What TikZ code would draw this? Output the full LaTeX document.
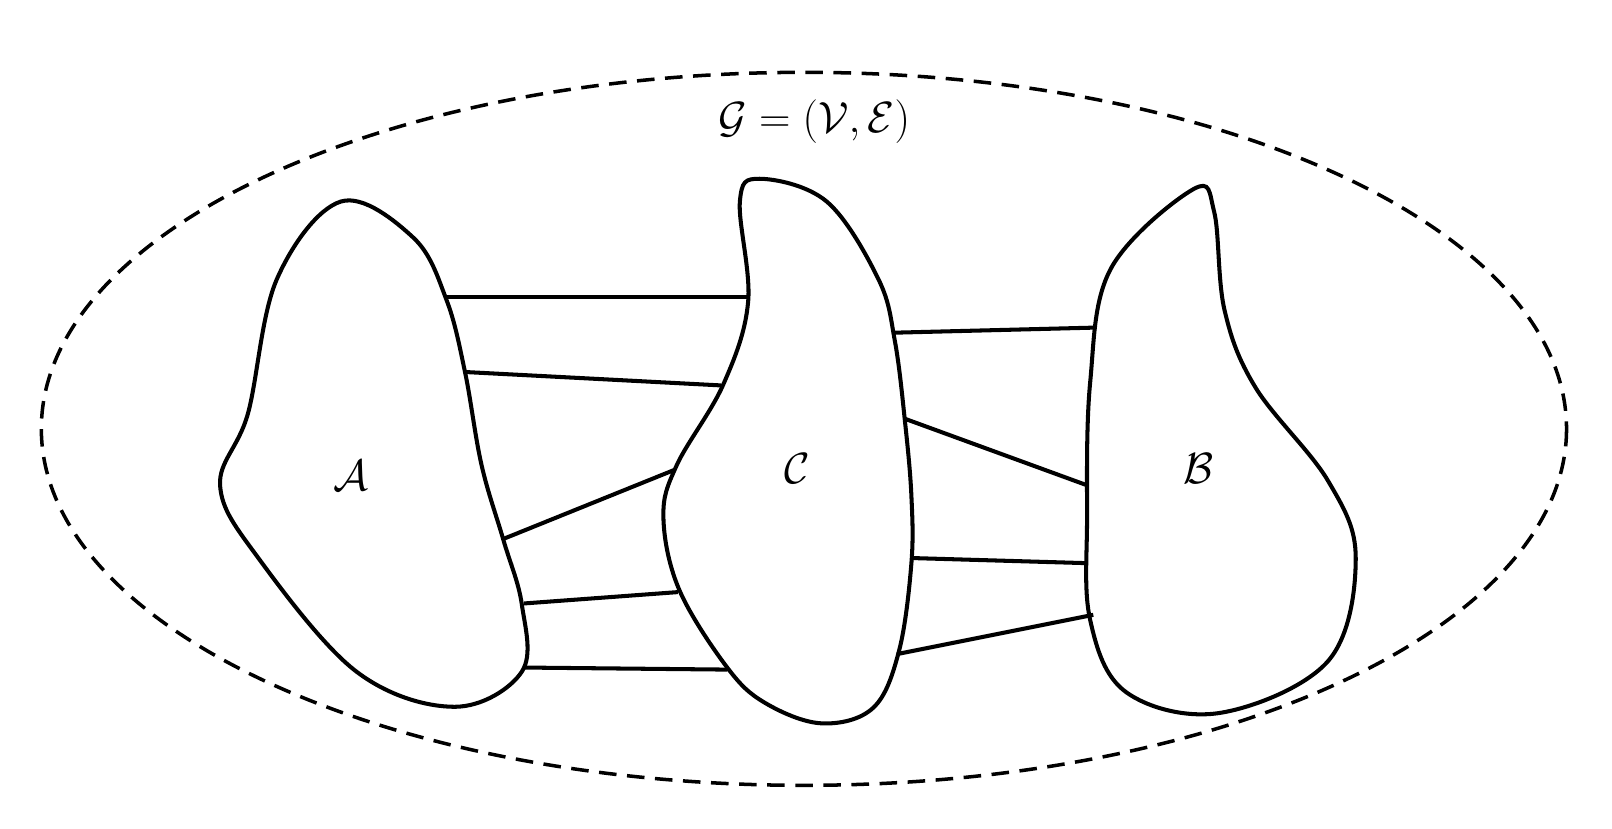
\documentclass[tikz,border=0pt]{standalone}
\usepackage{amsmath}
\begin{document}
\begin{tikzpicture}[x=0.02067cm,y=-0.02067cm,
  blob/.style={line width=2.3pt},
  edge/.style={line width=2.3pt},
  lab/.style={font=\fontsize{50}{58}\selectfont}]
\useasboundingbox (0,0) rectangle (1560,802);
\draw[line width=2pt,dash pattern=on 10pt off 6pt] (778,415) ellipse [x radius=738, y radius=345];
% blob A
\draw[blob] plot[smooth cycle,tension=0.6] coordinates {(330,195) (400,230) (432,290) (450,360) (466,450) (487,522) (505,585) (505,650) (440,684) (345,650) (250,540) (213,470) (240,400) (268,270)};
% blob C
\draw[blob] plot[smooth cycle,tension=0.6] coordinates {(735,173) (800,195) (850,270) (866,330) (876,410) (882,480) (882,545) (870,630) (845,685) (795,700) (740,680) (703,645) (657,570) (642,500) (655,450) (700,372) (724,292) (716,195)};
% blob B
\draw[blob] plot[smooth cycle,tension=0.6] coordinates {(1155,183) (1175,205) (1185,300) (1215,375) (1285,465) (1312,540) (1285,640) (1180,690) (1090,670) (1055,600) (1052,500) (1055,370) (1075,260)};
\node[lab] (A) at (340,460) {$\mathcal{A}$};
\node[lab] (C) at (772,453) {$\mathcal{C}$};
\node[lab] (B) at (1160,453) {$\mathcal{B}$};
\node[lab] (G) at (788,118) {$\mathcal{G}=(\mathcal{V},\mathcal{E})$};
\coordinate (a1) at (430,287); \coordinate (c1) at (723,287);
\coordinate (a2) at (450,360); \coordinate (c2) at (698,373);
\coordinate (a3) at (486,522); \coordinate (c3) at (652,455);
\coordinate (a4) at (507,584); \coordinate (c4) at (656,573);
\coordinate (a5) at (506,646); \coordinate (c5) at (704,648);
\coordinate (c6) at (864,322); \coordinate (b6) at (1061,317);
\coordinate (c7) at (875,405); \coordinate (b7) at (1053,470);
\coordinate (c8) at (881,540); \coordinate (b8) at (1052,545);
\coordinate (c9) at (868,633); \coordinate (b9) at (1058,595);
\foreach \u/\v in {a1/c1,a2/c2,a3/c3,a4/c4,a5/c5,c6/b6,c7/b7,c8/b8,c9/b9}
  \draw[edge] (\u) -- (\v);
\end{tikzpicture}
\end{document}
